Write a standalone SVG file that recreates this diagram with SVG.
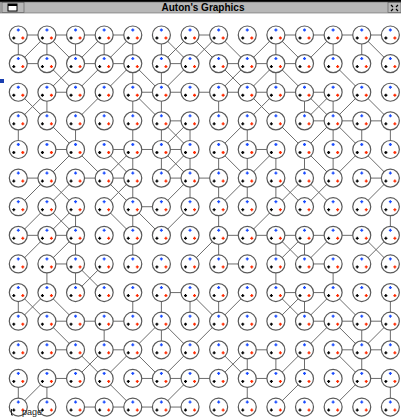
<svg xmlns="http://www.w3.org/2000/svg" width="401" height="417" viewBox="0 0 401 417">
<style>
#connectors line{stroke:#6c6c6c;stroke-width:1;fill:none;vector-effect:non-scaling-stroke}
.ring{fill:#fff;stroke:#5a5a5a;stroke-width:1.2}
.pb{stroke:#1a4cff;stroke-width:1.3}
.pk{stroke:#000;stroke-width:1.3}
.pr{stroke:#ff2a00;stroke-width:1.3}
.title{font-family:"Liberation Sans",Arial,sans-serif;font-size:10px;font-weight:bold;fill:#000}
.lbl{font-family:"Liberation Sans",Arial,sans-serif;font-size:9px;fill:#222}
</style>
<defs>
<g id="nd" transform="scale(0.03494)">
<circle class="ring" r="9"/>
<path class="pb" d="M-1.5 -5H1.5M0 -6.5V-3.5"/>
<path class="pk" d="M-6 3H-3M-4.5 1.5V4.5"/>
<path class="pr" d="M3 3H6M4.5 1.5V4.5"/>
</g>
</defs>
<rect width="401" height="417" fill="#fff"/>
<g id="titlebar">
<rect x="0" y="0" width="401" height="2" fill="#000"/>
<rect x="0" y="2" width="401" height="11" fill="#b8b8b8" stroke="#666" stroke-width="0.6"/>
<rect x="2" y="2.5" width="22" height="10" fill="#b8b8b8" stroke="#555" stroke-width="0.6"/>
<rect x="8" y="4" width="9" height="7" fill="#fff" stroke="#000" stroke-width="1"/>
<rect x="8" y="4" width="9" height="2" fill="#000"/>
<rect x="388" y="2.5" width="13" height="10" fill="#b8b8b8" stroke="#555" stroke-width="0.6"/>
<path d="M391 5l2 2M398 5l-2 2M391 11l2-2M398 11l-2-2" stroke="#000" stroke-width="1.2"/>
<text class="title" x="203" y="11" text-anchor="middle">Auton's Graphics</text>
</g>
<rect x="0" y="79" width="4" height="4" fill="#1a3fb0"/>
<g transform="translate(18.3 35) scale(28.62)">
<g id="connectors">
<line x1="0" y1="0" x2="1" y2="0"/><line x1="1" y1="0" x2="2" y2="0"/><line x1="2" y1="0" x2="3" y2="0"/><line x1="3" y1="0" x2="4" y2="0"/><line x1="6" y1="0" x2="7" y2="0"/><line x1="9" y1="0" x2="10" y2="0"/><line x1="10" y1="0" x2="11" y2="0"/><line x1="11" y1="0" x2="12" y2="0"/><line x1="12" y1="0" x2="13" y2="0"/>
<line x1="0" y1="0" x2="0" y2="1"/><line x1="1" y1="0" x2="0" y2="1"/><line x1="1" y1="0" x2="1" y2="1"/><line x1="1" y1="0" x2="2" y2="1"/><line x1="2" y1="0" x2="2" y2="1"/><line x1="3" y1="0" x2="2" y2="1"/><line x1="3" y1="0" x2="3" y2="1"/><line x1="4" y1="0" x2="3" y2="1"/><line x1="4" y1="0" x2="4" y2="1"/><line x1="5" y1="0" x2="5" y2="1"/><line x1="5" y1="0" x2="6" y2="1"/><line x1="6" y1="0" x2="5" y2="1"/><line x1="6" y1="0" x2="7" y2="1"/><line x1="7" y1="0" x2="6" y2="1"/><line x1="7" y1="0" x2="8" y2="1"/><line x1="9" y1="0" x2="8" y2="1"/><line x1="9" y1="0" x2="9" y2="1"/><line x1="9" y1="0" x2="10" y2="1"/><line x1="11" y1="0" x2="10" y2="1"/><line x1="11" y1="0" x2="11" y2="1"/><line x1="12" y1="0" x2="12" y2="1"/><line x1="12" y1="0" x2="13" y2="1"/>
<line x1="0" y1="1" x2="1" y2="1"/><line x1="2" y1="1" x2="3" y2="1"/><line x1="3" y1="1" x2="4" y2="1"/><line x1="5" y1="1" x2="6" y2="1"/><line x1="7" y1="1" x2="8" y2="1"/><line x1="8" y1="1" x2="9" y2="1"/><line x1="9" y1="1" x2="10" y2="1"/>
<line x1="1" y1="1" x2="2" y2="2"/><line x1="2" y1="1" x2="1" y2="2"/><line x1="3" y1="1" x2="2" y2="2"/><line x1="4" y1="1" x2="3" y2="2"/><line x1="4" y1="1" x2="4" y2="2"/><line x1="4" y1="1" x2="5" y2="2"/><line x1="5" y1="1" x2="5" y2="2"/><line x1="6" y1="1" x2="5" y2="2"/><line x1="7" y1="1" x2="8" y2="2"/><line x1="8" y1="1" x2="7" y2="2"/><line x1="9" y1="1" x2="8" y2="2"/><line x1="9" y1="1" x2="9" y2="2"/><line x1="9" y1="1" x2="10" y2="2"/><line x1="11" y1="1" x2="12" y2="2"/>
<line x1="1" y1="2" x2="2" y2="2"/><line x1="4" y1="2" x2="5" y2="2"/><line x1="5" y1="2" x2="6" y2="2"/><line x1="6" y1="2" x2="7" y2="2"/><line x1="7" y1="2" x2="8" y2="2"/><line x1="8" y1="2" x2="9" y2="2"/><line x1="9" y1="2" x2="10" y2="2"/><line x1="10" y1="2" x2="11" y2="2"/>
<line x1="0" y1="2" x2="1" y2="3"/><line x1="1" y1="2" x2="0" y2="3"/><line x1="1" y1="2" x2="1" y2="3"/><line x1="3" y1="2" x2="2" y2="3"/><line x1="4" y1="2" x2="4" y2="3"/><line x1="4" y1="2" x2="5" y2="3"/><line x1="5" y1="2" x2="5" y2="3"/><line x1="7" y1="2" x2="7" y2="3"/><line x1="8" y1="2" x2="9" y2="3"/><line x1="9" y1="2" x2="8" y2="3"/><line x1="10" y1="2" x2="10" y2="3"/><line x1="10" y1="2" x2="11" y2="3"/><line x1="11" y1="2" x2="10" y2="3"/><line x1="11" y1="2" x2="11" y2="3"/><line x1="12" y1="2" x2="11" y2="3"/><line x1="12" y1="2" x2="13" y2="3"/>
<line x1="5" y1="3" x2="6" y2="3"/><line x1="10" y1="3" x2="11" y2="3"/><line x1="11" y1="3" x2="12" y2="3"/><line x1="12" y1="3" x2="13" y2="3"/>
<line x1="0" y1="3" x2="0" y2="4"/><line x1="1" y1="3" x2="2" y2="4"/><line x1="2" y1="3" x2="2" y2="4"/><line x1="4" y1="3" x2="4" y2="4"/><line x1="5" y1="3" x2="5" y2="4"/><line x1="5" y1="3" x2="6" y2="4"/><line x1="6" y1="3" x2="5" y2="4"/><line x1="6" y1="3" x2="6" y2="4"/><line x1="8" y1="3" x2="7" y2="4"/><line x1="8" y1="3" x2="8" y2="4"/><line x1="9" y1="3" x2="10" y2="4"/><line x1="11" y1="3" x2="10" y2="4"/><line x1="11" y1="3" x2="11" y2="4"/><line x1="11" y1="3" x2="12" y2="4"/><line x1="12" y1="3" x2="12" y2="4"/><line x1="13" y1="3" x2="13" y2="4"/>
<line x1="1" y1="4" x2="2" y2="4"/><line x1="3" y1="4" x2="4" y2="4"/><line x1="4" y1="4" x2="5" y2="4"/><line x1="5" y1="4" x2="6" y2="4"/><line x1="8" y1="4" x2="9" y2="4"/>
<line x1="2" y1="4" x2="1" y2="5"/><line x1="2" y1="4" x2="3" y2="5"/><line x1="3" y1="4" x2="4" y2="5"/><line x1="4" y1="4" x2="3" y2="5"/><line x1="4" y1="4" x2="4" y2="5"/><line x1="5" y1="4" x2="5" y2="5"/><line x1="5" y1="4" x2="6" y2="5"/><line x1="6" y1="4" x2="5" y2="5"/><line x1="6" y1="4" x2="6" y2="5"/><line x1="7" y1="4" x2="7" y2="5"/><line x1="7" y1="4" x2="8" y2="5"/><line x1="8" y1="4" x2="8" y2="5"/><line x1="9" y1="4" x2="8" y2="5"/><line x1="9" y1="4" x2="9" y2="5"/><line x1="10" y1="4" x2="10" y2="5"/><line x1="10" y1="4" x2="11" y2="5"/><line x1="11" y1="4" x2="11" y2="5"/><line x1="12" y1="4" x2="11" y2="5"/><line x1="12" y1="4" x2="13" y2="5"/>
<line x1="0" y1="5" x2="1" y2="5"/><line x1="2" y1="5" x2="3" y2="5"/><line x1="3" y1="5" x2="4" y2="5"/><line x1="5" y1="5" x2="6" y2="5"/><line x1="6" y1="5" x2="7" y2="5"/><line x1="12" y1="5" x2="13" y2="5"/>
<line x1="1" y1="5" x2="0" y2="6"/><line x1="1" y1="5" x2="2" y2="6"/><line x1="2" y1="5" x2="1" y2="6"/><line x1="3" y1="5" x2="4" y2="6"/><line x1="4" y1="5" x2="3" y2="6"/><line x1="4" y1="5" x2="4" y2="6"/><line x1="6" y1="5" x2="5" y2="6"/><line x1="6" y1="5" x2="6" y2="6"/><line x1="7" y1="5" x2="7" y2="6"/><line x1="8" y1="5" x2="7" y2="6"/><line x1="8" y1="5" x2="8" y2="6"/><line x1="9" y1="5" x2="9" y2="6"/><line x1="9" y1="5" x2="10" y2="6"/><line x1="10" y1="5" x2="9" y2="6"/><line x1="10" y1="5" x2="11" y2="6"/><line x1="11" y1="5" x2="10" y2="6"/><line x1="13" y1="5" x2="12" y2="6"/>
<line x1="4" y1="6" x2="5" y2="6"/>
<line x1="1" y1="6" x2="0" y2="7"/><line x1="1" y1="6" x2="2" y2="7"/><line x1="2" y1="6" x2="1" y2="7"/><line x1="2" y1="6" x2="2" y2="7"/><line x1="3" y1="6" x2="4" y2="7"/><line x1="4" y1="6" x2="4" y2="7"/><line x1="4" y1="6" x2="5" y2="7"/><line x1="6" y1="6" x2="5" y2="7"/><line x1="7" y1="6" x2="7" y2="7"/><line x1="9" y1="6" x2="8" y2="7"/><line x1="13" y1="6" x2="13" y2="7"/>
<line x1="0" y1="7" x2="1" y2="7"/><line x1="1" y1="7" x2="2" y2="7"/><line x1="7" y1="7" x2="8" y2="7"/><line x1="8" y1="7" x2="9" y2="7"/><line x1="9" y1="7" x2="10" y2="7"/><line x1="10" y1="7" x2="11" y2="7"/><line x1="11" y1="7" x2="12" y2="7"/>
<line x1="1" y1="7" x2="0" y2="8"/><line x1="2" y1="7" x2="1" y2="8"/><line x1="2" y1="7" x2="2" y2="8"/><line x1="4" y1="7" x2="4" y2="8"/><line x1="7" y1="7" x2="6" y2="8"/><line x1="7" y1="7" x2="7" y2="8"/><line x1="9" y1="7" x2="9" y2="8"/><line x1="9" y1="7" x2="10" y2="8"/><line x1="10" y1="7" x2="9" y2="8"/><line x1="10" y1="7" x2="10" y2="8"/><line x1="11" y1="7" x2="10" y2="8"/><line x1="12" y1="7" x2="13" y2="8"/><line x1="13" y1="7" x2="12" y2="8"/>
<line x1="1" y1="8" x2="2" y2="8"/><line x1="7" y1="8" x2="8" y2="8"/><line x1="10" y1="8" x2="11" y2="8"/>
<line x1="1" y1="8" x2="1" y2="9"/><line x1="2" y1="8" x2="2" y2="9"/><line x1="2" y1="8" x2="3" y2="9"/><line x1="3" y1="8" x2="2" y2="9"/><line x1="9" y1="8" x2="9" y2="9"/><line x1="11" y1="8" x2="11" y2="9"/>
<line x1="5" y1="9" x2="6" y2="9"/><line x1="9" y1="9" x2="10" y2="9"/><line x1="10" y1="9" x2="11" y2="9"/>
<line x1="0" y1="9" x2="0" y2="10"/><line x1="1" y1="9" x2="0" y2="10"/><line x1="0" y1="9" x2="1" y2="10"/><line x1="1" y1="9" x2="2" y2="10"/><line x1="4" y1="9" x2="4" y2="10"/><line x1="5" y1="9" x2="5" y2="10"/><line x1="6" y1="9" x2="6" y2="10"/><line x1="6" y1="9" x2="7" y2="10"/><line x1="7" y1="9" x2="7" y2="10"/><line x1="8" y1="9" x2="7" y2="10"/><line x1="9" y1="9" x2="10" y2="10"/><line x1="10" y1="9" x2="9" y2="10"/><line x1="10" y1="9" x2="10" y2="10"/><line x1="11" y1="9" x2="10" y2="10"/><line x1="11" y1="9" x2="12" y2="10"/><line x1="13" y1="9" x2="13" y2="10"/>
<line x1="1" y1="10" x2="2" y2="10"/><line x1="2" y1="10" x2="3" y2="10"/><line x1="3" y1="10" x2="4" y2="10"/><line x1="10" y1="10" x2="11" y2="10"/><line x1="11" y1="10" x2="12" y2="10"/><line x1="12" y1="10" x2="13" y2="10"/>
<line x1="1" y1="10" x2="2" y2="11"/><line x1="3" y1="10" x2="3" y2="11"/><line x1="5" y1="10" x2="4" y2="11"/><line x1="5" y1="10" x2="5" y2="11"/><line x1="5" y1="10" x2="6" y2="11"/><line x1="7" y1="10" x2="6" y2="11"/><line x1="11" y1="10" x2="10" y2="11"/><line x1="11" y1="10" x2="12" y2="11"/><line x1="12" y1="10" x2="12" y2="11"/><line x1="13" y1="10" x2="12" y2="11"/><line x1="13" y1="10" x2="13" y2="11"/>
<line x1="1" y1="11" x2="2" y2="11"/><line x1="3" y1="11" x2="4" y2="11"/><line x1="8" y1="11" x2="9" y2="11"/><line x1="11" y1="11" x2="12" y2="11"/><line x1="12" y1="11" x2="13" y2="11"/>
<line x1="2" y1="11" x2="3" y2="12"/><line x1="3" y1="11" x2="2" y2="12"/><line x1="4" y1="11" x2="3" y2="12"/><line x1="4" y1="11" x2="5" y2="12"/><line x1="6" y1="11" x2="5" y2="12"/><line x1="7" y1="11" x2="8" y2="12"/><line x1="8" y1="11" x2="7" y2="12"/><line x1="8" y1="11" x2="8" y2="12"/><line x1="9" y1="11" x2="9" y2="12"/><line x1="10" y1="11" x2="9" y2="12"/><line x1="10" y1="11" x2="10" y2="12"/><line x1="11" y1="11" x2="12" y2="12"/><line x1="12" y1="11" x2="12" y2="12"/>
<line x1="1" y1="12" x2="2" y2="12"/><line x1="4" y1="12" x2="5" y2="12"/><line x1="5" y1="12" x2="6" y2="12"/><line x1="6" y1="12" x2="7" y2="12"/><line x1="8" y1="12" x2="9" y2="12"/><line x1="12" y1="12" x2="13" y2="12"/>
<line x1="0" y1="12" x2="0" y2="13"/><line x1="1" y1="12" x2="0" y2="13"/><line x1="1" y1="12" x2="1" y2="13"/><line x1="3" y1="12" x2="4" y2="13"/><line x1="6" y1="12" x2="5" y2="13"/><line x1="8" y1="12" x2="8" y2="13"/><line x1="10" y1="12" x2="9" y2="13"/><line x1="12" y1="12" x2="11" y2="13"/><line x1="13" y1="12" x2="13" y2="13"/>
<line x1="2" y1="13" x2="3" y2="13"/><line x1="3" y1="13" x2="4" y2="13"/><line x1="4" y1="13" x2="5" y2="13"/><line x1="5" y1="13" x2="6" y2="13"/>
</g>
<g id="nodes">
<g id="n0_0"><use href="#nd" x="0" y="0"/></g><g id="n0_1"><use href="#nd" x="1" y="0"/></g><g id="n0_2"><use href="#nd" x="2" y="0"/></g><g id="n0_3"><use href="#nd" x="3" y="0"/></g><g id="n0_4"><use href="#nd" x="4" y="0"/></g><g id="n0_5"><use href="#nd" x="5" y="0"/></g><g id="n0_6"><use href="#nd" x="6" y="0"/></g><g id="n0_7"><use href="#nd" x="7" y="0"/></g><g id="n0_8"><use href="#nd" x="8" y="0"/></g><g id="n0_9"><use href="#nd" x="9" y="0"/></g><g id="n0_10"><use href="#nd" x="10" y="0"/></g><g id="n0_11"><use href="#nd" x="11" y="0"/></g><g id="n0_12"><use href="#nd" x="12" y="0"/></g><g id="n0_13"><use href="#nd" x="13" y="0"/></g>
<g id="n1_0"><use href="#nd" x="0" y="1"/></g><g id="n1_1"><use href="#nd" x="1" y="1"/></g><g id="n1_2"><use href="#nd" x="2" y="1"/></g><g id="n1_3"><use href="#nd" x="3" y="1"/></g><g id="n1_4"><use href="#nd" x="4" y="1"/></g><g id="n1_5"><use href="#nd" x="5" y="1"/></g><g id="n1_6"><use href="#nd" x="6" y="1"/></g><g id="n1_7"><use href="#nd" x="7" y="1"/></g><g id="n1_8"><use href="#nd" x="8" y="1"/></g><g id="n1_9"><use href="#nd" x="9" y="1"/></g><g id="n1_10"><use href="#nd" x="10" y="1"/></g><g id="n1_11"><use href="#nd" x="11" y="1"/></g><g id="n1_12"><use href="#nd" x="12" y="1"/></g><g id="n1_13"><use href="#nd" x="13" y="1"/></g>
<g id="n2_0"><use href="#nd" x="0" y="2"/></g><g id="n2_1"><use href="#nd" x="1" y="2"/></g><g id="n2_2"><use href="#nd" x="2" y="2"/></g><g id="n2_3"><use href="#nd" x="3" y="2"/></g><g id="n2_4"><use href="#nd" x="4" y="2"/></g><g id="n2_5"><use href="#nd" x="5" y="2"/></g><g id="n2_6"><use href="#nd" x="6" y="2"/></g><g id="n2_7"><use href="#nd" x="7" y="2"/></g><g id="n2_8"><use href="#nd" x="8" y="2"/></g><g id="n2_9"><use href="#nd" x="9" y="2"/></g><g id="n2_10"><use href="#nd" x="10" y="2"/></g><g id="n2_11"><use href="#nd" x="11" y="2"/></g><g id="n2_12"><use href="#nd" x="12" y="2"/></g><g id="n2_13"><use href="#nd" x="13" y="2"/></g>
<g id="n3_0"><use href="#nd" x="0" y="3"/></g><g id="n3_1"><use href="#nd" x="1" y="3"/></g><g id="n3_2"><use href="#nd" x="2" y="3"/></g><g id="n3_3"><use href="#nd" x="3" y="3"/></g><g id="n3_4"><use href="#nd" x="4" y="3"/></g><g id="n3_5"><use href="#nd" x="5" y="3"/></g><g id="n3_6"><use href="#nd" x="6" y="3"/></g><g id="n3_7"><use href="#nd" x="7" y="3"/></g><g id="n3_8"><use href="#nd" x="8" y="3"/></g><g id="n3_9"><use href="#nd" x="9" y="3"/></g><g id="n3_10"><use href="#nd" x="10" y="3"/></g><g id="n3_11"><use href="#nd" x="11" y="3"/></g><g id="n3_12"><use href="#nd" x="12" y="3"/></g><g id="n3_13"><use href="#nd" x="13" y="3"/></g>
<g id="n4_0"><use href="#nd" x="0" y="4"/></g><g id="n4_1"><use href="#nd" x="1" y="4"/></g><g id="n4_2"><use href="#nd" x="2" y="4"/></g><g id="n4_3"><use href="#nd" x="3" y="4"/></g><g id="n4_4"><use href="#nd" x="4" y="4"/></g><g id="n4_5"><use href="#nd" x="5" y="4"/></g><g id="n4_6"><use href="#nd" x="6" y="4"/></g><g id="n4_7"><use href="#nd" x="7" y="4"/></g><g id="n4_8"><use href="#nd" x="8" y="4"/></g><g id="n4_9"><use href="#nd" x="9" y="4"/></g><g id="n4_10"><use href="#nd" x="10" y="4"/></g><g id="n4_11"><use href="#nd" x="11" y="4"/></g><g id="n4_12"><use href="#nd" x="12" y="4"/></g><g id="n4_13"><use href="#nd" x="13" y="4"/></g>
<g id="n5_0"><use href="#nd" x="0" y="5"/></g><g id="n5_1"><use href="#nd" x="1" y="5"/></g><g id="n5_2"><use href="#nd" x="2" y="5"/></g><g id="n5_3"><use href="#nd" x="3" y="5"/></g><g id="n5_4"><use href="#nd" x="4" y="5"/></g><g id="n5_5"><use href="#nd" x="5" y="5"/></g><g id="n5_6"><use href="#nd" x="6" y="5"/></g><g id="n5_7"><use href="#nd" x="7" y="5"/></g><g id="n5_8"><use href="#nd" x="8" y="5"/></g><g id="n5_9"><use href="#nd" x="9" y="5"/></g><g id="n5_10"><use href="#nd" x="10" y="5"/></g><g id="n5_11"><use href="#nd" x="11" y="5"/></g><g id="n5_12"><use href="#nd" x="12" y="5"/></g><g id="n5_13"><use href="#nd" x="13" y="5"/></g>
<g id="n6_0"><use href="#nd" x="0" y="6"/></g><g id="n6_1"><use href="#nd" x="1" y="6"/></g><g id="n6_2"><use href="#nd" x="2" y="6"/></g><g id="n6_3"><use href="#nd" x="3" y="6"/></g><g id="n6_4"><use href="#nd" x="4" y="6"/></g><g id="n6_5"><use href="#nd" x="5" y="6"/></g><g id="n6_6"><use href="#nd" x="6" y="6"/></g><g id="n6_7"><use href="#nd" x="7" y="6"/></g><g id="n6_8"><use href="#nd" x="8" y="6"/></g><g id="n6_9"><use href="#nd" x="9" y="6"/></g><g id="n6_10"><use href="#nd" x="10" y="6"/></g><g id="n6_11"><use href="#nd" x="11" y="6"/></g><g id="n6_12"><use href="#nd" x="12" y="6"/></g><g id="n6_13"><use href="#nd" x="13" y="6"/></g>
<g id="n7_0"><use href="#nd" x="0" y="7"/></g><g id="n7_1"><use href="#nd" x="1" y="7"/></g><g id="n7_2"><use href="#nd" x="2" y="7"/></g><g id="n7_3"><use href="#nd" x="3" y="7"/></g><g id="n7_4"><use href="#nd" x="4" y="7"/></g><g id="n7_5"><use href="#nd" x="5" y="7"/></g><g id="n7_6"><use href="#nd" x="6" y="7"/></g><g id="n7_7"><use href="#nd" x="7" y="7"/></g><g id="n7_8"><use href="#nd" x="8" y="7"/></g><g id="n7_9"><use href="#nd" x="9" y="7"/></g><g id="n7_10"><use href="#nd" x="10" y="7"/></g><g id="n7_11"><use href="#nd" x="11" y="7"/></g><g id="n7_12"><use href="#nd" x="12" y="7"/></g><g id="n7_13"><use href="#nd" x="13" y="7"/></g>
<g id="n8_0"><use href="#nd" x="0" y="8"/></g><g id="n8_1"><use href="#nd" x="1" y="8"/></g><g id="n8_2"><use href="#nd" x="2" y="8"/></g><g id="n8_3"><use href="#nd" x="3" y="8"/></g><g id="n8_4"><use href="#nd" x="4" y="8"/></g><g id="n8_5"><use href="#nd" x="5" y="8"/></g><g id="n8_6"><use href="#nd" x="6" y="8"/></g><g id="n8_7"><use href="#nd" x="7" y="8"/></g><g id="n8_8"><use href="#nd" x="8" y="8"/></g><g id="n8_9"><use href="#nd" x="9" y="8"/></g><g id="n8_10"><use href="#nd" x="10" y="8"/></g><g id="n8_11"><use href="#nd" x="11" y="8"/></g><g id="n8_12"><use href="#nd" x="12" y="8"/></g><g id="n8_13"><use href="#nd" x="13" y="8"/></g>
<g id="n9_0"><use href="#nd" x="0" y="9"/></g><g id="n9_1"><use href="#nd" x="1" y="9"/></g><g id="n9_2"><use href="#nd" x="2" y="9"/></g><g id="n9_3"><use href="#nd" x="3" y="9"/></g><g id="n9_4"><use href="#nd" x="4" y="9"/></g><g id="n9_5"><use href="#nd" x="5" y="9"/></g><g id="n9_6"><use href="#nd" x="6" y="9"/></g><g id="n9_7"><use href="#nd" x="7" y="9"/></g><g id="n9_8"><use href="#nd" x="8" y="9"/></g><g id="n9_9"><use href="#nd" x="9" y="9"/></g><g id="n9_10"><use href="#nd" x="10" y="9"/></g><g id="n9_11"><use href="#nd" x="11" y="9"/></g><g id="n9_12"><use href="#nd" x="12" y="9"/></g><g id="n9_13"><use href="#nd" x="13" y="9"/></g>
<g id="n10_0"><use href="#nd" x="0" y="10"/></g><g id="n10_1"><use href="#nd" x="1" y="10"/></g><g id="n10_2"><use href="#nd" x="2" y="10"/></g><g id="n10_3"><use href="#nd" x="3" y="10"/></g><g id="n10_4"><use href="#nd" x="4" y="10"/></g><g id="n10_5"><use href="#nd" x="5" y="10"/></g><g id="n10_6"><use href="#nd" x="6" y="10"/></g><g id="n10_7"><use href="#nd" x="7" y="10"/></g><g id="n10_8"><use href="#nd" x="8" y="10"/></g><g id="n10_9"><use href="#nd" x="9" y="10"/></g><g id="n10_10"><use href="#nd" x="10" y="10"/></g><g id="n10_11"><use href="#nd" x="11" y="10"/></g><g id="n10_12"><use href="#nd" x="12" y="10"/></g><g id="n10_13"><use href="#nd" x="13" y="10"/></g>
<g id="n11_0"><use href="#nd" x="0" y="11"/></g><g id="n11_1"><use href="#nd" x="1" y="11"/></g><g id="n11_2"><use href="#nd" x="2" y="11"/></g><g id="n11_3"><use href="#nd" x="3" y="11"/></g><g id="n11_4"><use href="#nd" x="4" y="11"/></g><g id="n11_5"><use href="#nd" x="5" y="11"/></g><g id="n11_6"><use href="#nd" x="6" y="11"/></g><g id="n11_7"><use href="#nd" x="7" y="11"/></g><g id="n11_8"><use href="#nd" x="8" y="11"/></g><g id="n11_9"><use href="#nd" x="9" y="11"/></g><g id="n11_10"><use href="#nd" x="10" y="11"/></g><g id="n11_11"><use href="#nd" x="11" y="11"/></g><g id="n11_12"><use href="#nd" x="12" y="11"/></g><g id="n11_13"><use href="#nd" x="13" y="11"/></g>
<g id="n12_0"><use href="#nd" x="0" y="12"/></g><g id="n12_1"><use href="#nd" x="1" y="12"/></g><g id="n12_2"><use href="#nd" x="2" y="12"/></g><g id="n12_3"><use href="#nd" x="3" y="12"/></g><g id="n12_4"><use href="#nd" x="4" y="12"/></g><g id="n12_5"><use href="#nd" x="5" y="12"/></g><g id="n12_6"><use href="#nd" x="6" y="12"/></g><g id="n12_7"><use href="#nd" x="7" y="12"/></g><g id="n12_8"><use href="#nd" x="8" y="12"/></g><g id="n12_9"><use href="#nd" x="9" y="12"/></g><g id="n12_10"><use href="#nd" x="10" y="12"/></g><g id="n12_11"><use href="#nd" x="11" y="12"/></g><g id="n12_12"><use href="#nd" x="12" y="12"/></g><g id="n12_13"><use href="#nd" x="13" y="12"/></g>
<g id="n13_0"><use href="#nd" x="0" y="13"/></g><g id="n13_1"><use href="#nd" x="1" y="13"/></g><g id="n13_2"><use href="#nd" x="2" y="13"/></g><g id="n13_3"><use href="#nd" x="3" y="13"/></g><g id="n13_4"><use href="#nd" x="4" y="13"/></g><g id="n13_5"><use href="#nd" x="5" y="13"/></g><g id="n13_6"><use href="#nd" x="6" y="13"/></g><g id="n13_7"><use href="#nd" x="7" y="13"/></g><g id="n13_8"><use href="#nd" x="8" y="13"/></g><g id="n13_9"><use href="#nd" x="9" y="13"/></g><g id="n13_10"><use href="#nd" x="10" y="13"/></g><g id="n13_11"><use href="#nd" x="11" y="13"/></g><g id="n13_12"><use href="#nd" x="12" y="13"/></g><g id="n13_13"><use href="#nd" x="13" y="13"/></g>
</g>
</g>
<path d="M11.5 409V415H13" stroke="#222" stroke-width="1" fill="none"/>
<text class="lbl" x="22" y="415">page</text>
</svg>
